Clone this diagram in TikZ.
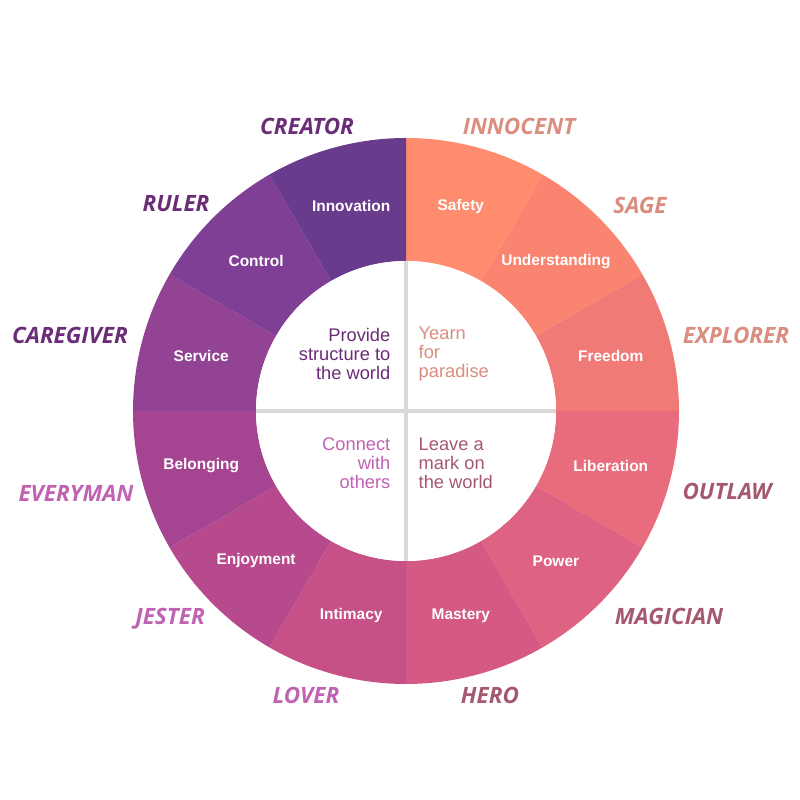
\documentclass[tikz,border=0pt]{standalone}
\usepackage{fontspec}
\setmainfont{Liberation Sans}
\newfontfamily\headfont{Open Sans}
\usepackage{tikz}
\usetikzlibrary{calc}
\definecolor{cA}{HTML}{FF8C6E}
\definecolor{cB}{HTML}{F98470}
\definecolor{cC}{HTML}{F07A76}
\definecolor{cD}{HTML}{E86C7C}
\definecolor{cE}{HTML}{DE6281}
\definecolor{cF}{HTML}{D45984}
\definecolor{cG}{HTML}{C75087}
\definecolor{cH}{HTML}{B64A8D}
\definecolor{cI}{HTML}{A54592}
\definecolor{cJ}{HTML}{924394}
\definecolor{cK}{HTML}{7E3F94}
\definecolor{cL}{HTML}{693B8C}
\definecolor{tPurple}{HTML}{6B2D78}
\definecolor{tSalmon}{HTML}{D98E7F}
\definecolor{tRose}{HTML}{A5596F}
\definecolor{tPink}{HTML}{C063B3}
\def\Ro{2.73}
\def\Ri{1.50}
\tikzset{
  ringlabel/.style={text=white,font=\bfseries\fontsize{4.4}{5}\selectfont},
  archetype/.style={font=\headfont\bfseries\itshape\fontsize{6.4}{7}\selectfont},
  motto/.style={font=\fontsize{5.2}{5.4}\selectfont,align=#1,inner sep=0pt}
}
\begin{document}
\begin{tikzpicture}
\useasboundingbox (0,0) rectangle (8,8);
\coordinate (c) at (4.06,3.89);
% ring segments
\foreach \i/\col/\lab in {0/cA/Safety,1/cB/Understanding,2/cC/Freedom,3/cD/Liberation,
  4/cE/Power,5/cF/Mastery,6/cG/Intimacy,7/cH/Enjoyment,8/cI/Belonging,
  9/cJ/Service,10/cK/Control,11/cL/Innovation}{
  \pgfmathsetmacro\aS{90-30*\i}
  \pgfmathsetmacro\aE{60-30*\i}
  \pgfmathsetmacro\aM{75-30*\i}
  \fill[\col] ($(c)+(\aS:\Ro)$) arc (\aS:\aE:\Ro) -- ($(c)+(\aE:\Ri)$) arc (\aE:\aS:\Ri) -- cycle;
  \node[ringlabel] (seg\i) at ($(c)+(\aM:2.12)$) {\lab};
}
\fill[white] (c) circle (\Ri);
\draw[black!15,line width=1pt] ($(c)+(0,\Ri)$) -- ($(c)+(0,-\Ri)$);
\draw[black!15,line width=1pt] ($(c)+(-\Ri,0)$) -- ($(c)+(\Ri,0)$);
% archetype names
\node[archetype,text=tPurple] (creator) at (3.07,6.74) {CREATOR};
\node[archetype,text=tSalmon] (innocent) at (5.19,6.74) {INNOCENT};
\node[archetype,text=tPurple] (ruler) at (1.76,5.96) {RULER};
\node[archetype,text=tSalmon] (sage) at (6.40,5.95) {SAGE};
\node[archetype,text=tPurple] (caregiver) at (0.70,4.65) {CAREGIVER};
\node[archetype,text=tSalmon] (explorer) at (7.36,4.65) {EXPLORER};
\node[archetype,text=tPink] (everyman) at (0.76,3.07) {EVERYMAN};
\node[archetype,text=tRose] (outlaw) at (7.27,3.09) {OUTLAW};
\node[archetype,text=tPink] (jester) at (1.70,1.81) {JESTER};
\node[archetype,text=tRose] (magician) at (6.69,1.84) {MAGICIAN};
\node[archetype,text=tPink] (lover) at (3.06,1.05) {LOVER};
\node[archetype,text=tRose] (hero) at (4.90,1.05) {HERO};
% mottos
\node[motto=right,text=tPurple,anchor=east] (provide) at (3.91,4.46) {Provide\\structure to\\the world};
\node[motto=left,text=tSalmon,anchor=west] (yearn) at (4.18,4.46) {Yearn\\for\\paradise};
\node[motto=right,text=tPink,anchor=east] (connect) at (3.91,3.37) {Connect\\with\\others};
\node[motto=left,text=tRose,anchor=west] (leave) at (4.18,3.37) {Leave a\\mark on\\the world};
\end{tikzpicture}
\end{document}
